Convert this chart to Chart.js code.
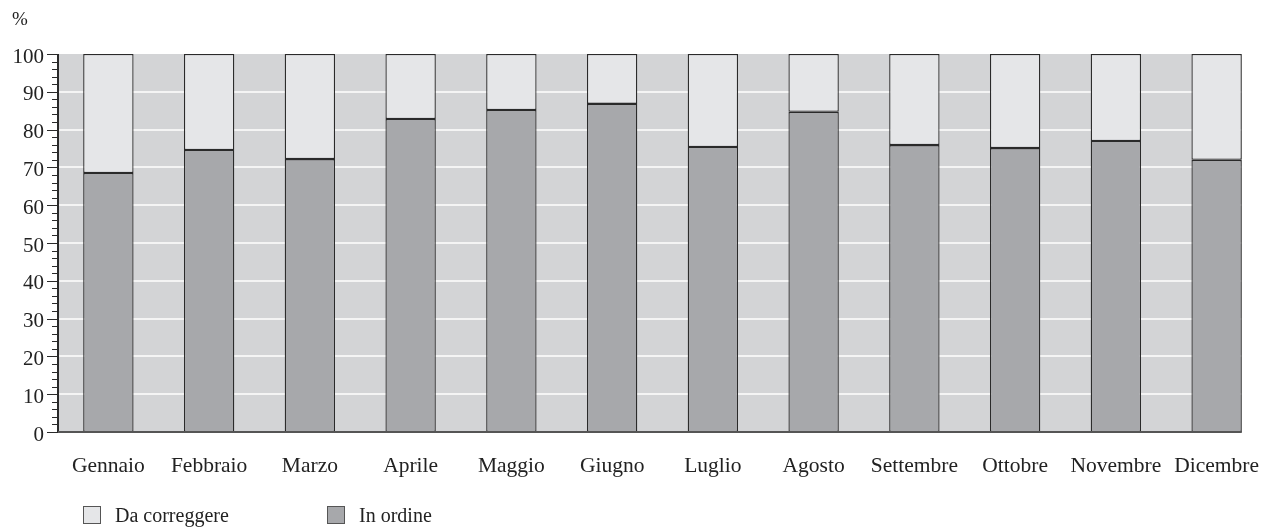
<!DOCTYPE html>
<html>
<head>
<meta charset="utf-8">
<script src="https://cdn.jsdelivr.net/npm/chart.js@4/dist/chart.umd.min.js"></script>
<style>
  html, body { margin: 0; padding: 0; background: #fff; }
  #wrap { position: relative; width: 1267px; height: 531px; }
  #legend { position: absolute; left: 83px; top: 506px; font-family: "Liberation Serif", serif; font-size: 20px; color: #222; }
  .item { position: absolute; top: 0; white-space: nowrap; }
  .box { position: absolute; left: 0; top: 0; width: 18px; height: 18px; border: 1px solid #555; box-sizing: border-box; }
  .lbl { position: absolute; left: 32px; top: -2px; }
</style>
</head>
<body>
<div id="wrap">
  <canvas id="chart" width="1267" height="531"></canvas>
  <div id="legend"></div>
</div>
<script>
const months = ['Gennaio', 'Febbraio', 'Marzo', 'Aprile', 'Maggio', 'Giugno', 'Luglio', 'Agosto', 'Settembre', 'Ottobre', 'Novembre', 'Dicembre'];
const inOrdine = [68.5, 74.6, 72.2, 82.8, 85.2, 86.8, 75.4, 84.7, 75.9, 75.1, 77.0, 72.0];
const daCorreggere = inOrdine.map(v => +(100 - v).toFixed(1));
const seriesNames = ['Da correggere', 'In ordine'];
const yMajor = [0, 10, 20, 30, 40, 50, 60, 70, 80, 90, 100];

const serif = '"Liberation Serif", "Times New Roman", serif';
const lightGrey = '#e5e6e8';
const darkGrey = '#a7a8ab';
const plotBg = '#d3d4d6';
const ink = '#2a2a2a';

// background, white grid lines, ticks and axis drawn off the chart's own scales
let plotDecor = {
  id: 'plotDecor',
  beforeDatasetsDraw(chart) {
    const ctx = chart.ctx;
    const area = chart.chartArea;
    const y = chart.scales.y;
    const bars = chart.getDatasetMeta(0).data;
    const last = bars[bars.length - 1];
    const right = last.x + last.width / 2;
    chart.$plotRight = right;
    ctx.save();
    ctx.fillStyle = plotBg;
    ctx.fillRect(area.left, area.top, right - area.left, area.bottom - area.top);
    ctx.strokeStyle = '#f4f4f4';
    ctx.lineWidth = 2;
    yMajor.slice(1, -1).forEach(v => {
      const py = Math.round(y.getPixelForValue(v));
      ctx.beginPath();
      ctx.moveTo(area.left, py);
      ctx.lineTo(right, py);
      ctx.stroke();
    });
    ctx.restore();
  },
  afterDatasetsDraw(chart) {
    const ctx = chart.ctx;
    const area = chart.chartArea;
    const y = chart.scales.y;
    ctx.save();
    ctx.strokeStyle = ink;
    ctx.lineWidth = 1;
    for (let v = 0; v <= 100; v += 2) {
      const py = Math.round(y.getPixelForValue(v)) + 0.5;
      const len = v % 10 === 0 ? 11 : 6;
      ctx.beginPath();
      ctx.moveTo(area.left - len, py);
      ctx.lineTo(area.left, py);
      ctx.stroke();
    }
    ctx.lineWidth = 2;
    ctx.beginPath();
    ctx.moveTo(area.left, y.getPixelForValue(100));
    ctx.lineTo(area.left, y.getPixelForValue(0));
    ctx.stroke();
    ctx.strokeStyle = '#555';
    ctx.beginPath();
    ctx.moveTo(area.left, area.bottom);
    ctx.lineTo(chart.$plotRight, area.bottom);
    ctx.stroke();
    ctx.fillStyle = '#222';
    ctx.font = '19px ' + serif;
    ctx.textAlign = 'left';
    ctx.textBaseline = 'middle';
    ctx.fillText('%', 12, 20);
    ctx.restore();
  }
};

const data = {
  labels: months,
  datasets: [{
    label: seriesNames[1],
    data: inOrdine,
    backgroundColor: darkGrey,
    borderColor: ink,
    borderWidth: 1.3,
    borderSkipped: false
  }, {
    label: seriesNames[0],
    data: daCorreggere,
    backgroundColor: lightGrey,
    borderColor: ink,
    borderWidth: 1.3,
    borderSkipped: false
  }]
};

const config = {
  type: 'bar',
  data: data,
  options: {
    responsive: false,
    animation: false,
    layout: { padding: { top: 54, left: 0, right: 0, bottom: 0 } },
    plugins: {
      legend: { display: false },
      tooltip: { enabled: false }
    },
    datasets: { bar: { categoryPercentage: 1, barPercentage: 0.5 } },
    scales: {
      x: {
        stacked: true,
        offset: true,
        grid: { display: false, drawTicks: false },
        border: { display: false },
        ticks: { color: '#222', font: { family: serif, size: 21.5 }, padding: 21, maxRotation: 0, autoSkip: false },
        afterFit: (s) => { s.height = 99; s.paddingLeft = 0; s.paddingRight = 0; }
      },
      y: {
        stacked: true,
        min: 0,
        max: 100,
        grid: { display: false, drawTicks: false },
        border: { display: false },
        ticks: {
          stepSize: 2,
          autoSkip: false,
          color: '#222',
          font: { family: serif, size: 21 },
          padding: 14,
          labelOffset: 3,
          callback: (v) => (v % 10 === 0 ? v : '')
        },
        afterFit: (s) => { s.width = 58; s.paddingTop = 0; s.paddingBottom = 0; }
      }
    }
  },
  plugins: [plotDecor]
};

const myChart = new Chart(document.getElementById('chart'), config);

// legend in the original's order: light first, then dark
let legend = document.getElementById('legend');
[[seriesNames[0], lightGrey, 0], [seriesNames[1], darkGrey, 244]].forEach(([name, color, left]) => {
  let it = document.createElement('div');
  it.className = 'item';
  it.style.left = left + 'px';
  it.innerHTML = `<span class="box" style="background:${color}"></span><span class="lbl">${name}</span>`;
  legend.appendChild(it);
});
</script>
</body>
</html>
